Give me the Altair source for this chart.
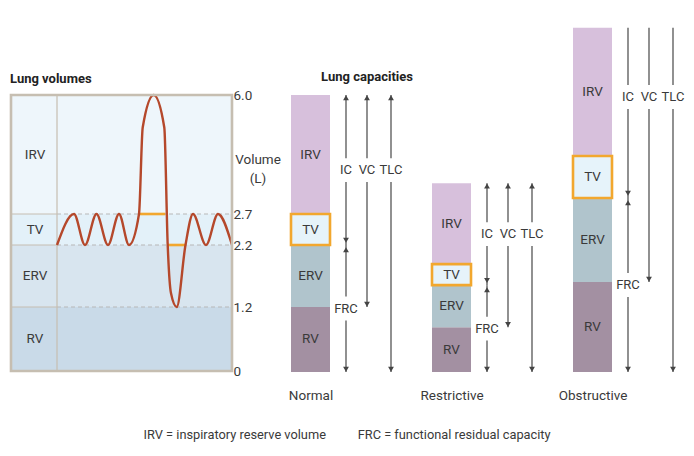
import altair as alt
import pandas as pd

FONT = "Roboto"
FS = 13.5
TEXT_COLOR = "#3a3a3a"

# ---------------- data ----------------
# Lung volumes panel (litres)
volume_levels = [0.0, 1.2, 2.2, 2.7, 6.0]
volume_regions = ["RV", "ERV", "TV", "IRV"]
volume_region_fill = ["#c9dae8", "#d8e5ef", "#e3f1f9", "#eef6fb"]

# spirometer trace: time (arbitrary units) and volume (L), peaks/troughs
trace_t = [46, 63, 74, 85.5, 97, 108, 118, 128, 131.7, 142.7, 153.3, 156.7, 160, 165.7, 174.5, 182, 195, 207, 221]
trace_v = [2.2, 2.7, 2.2, 2.7, 2.2, 2.7, 2.2, 2.7, 5.1, 6.0, 5.1, 2.2, 1.42, 1.2, 2.2, 2.7, 2.2, 2.7, 2.2]

# orange reference segments
reserve_v = [2.7, 2.2]
reserve_t0 = [128.3, 156.7]
reserve_t1 = [154.3, 174.0]

# Lung capacities panels (% of normal TLC, schematic)
conditions = ["Normal", "Restrictive", "Obstructive"]
rv = [23.5, 16.2, 32.5]
erv = [22.4, 15.2, 30.4]
tv = [11.2, 7.6, 15.2]
irv = [43.0, 29.2, 46.3]
ic_label_level = [73.0, 49.8, 99.4]
top_arrowheads = [True, True, False]

segment_names = ["RV", "ERV", "TV", "IRV"]
segment_fill = ["#a390a2", "#b0c4cc", "#e6f3fa", "#d7c0dc"]

legend_items = ["IRV = inspiratory reserve volume", "FRC = functional residual capacity"]

# ---------------- layout constants ----------------
LEFT_W = 221
PANEL_W = 141
PLOT_H = 345
LABEL_COL = 46
BAR_HALF = 19.5
ARROW_X = {"IC": 35.5, "VC": 56.5, "TLC": 80.5, "FRC": 35.5}
CAP_DOMAIN = [0, 124.7]
GAP = 4.3      # half gap around arrow labels (units)
HEAD = 1.0     # arrowhead half height (units)
TAN = "#c6beb1"

# ---------------- left panel ----------------
xs = alt.Scale(domain=[0, LEFT_W], nice=False, zero=False)
ys = alt.Scale(domain=[0, 1.2, 2.2, 2.7, 6.0, 7.886],
               range=[344, 280, 218, 187, 68, 0], nice=False, zero=False)

yaxis = alt.Axis(orient="right", values=volume_levels, title=None, ticks=False, domain=False,
                 grid=False, labelPadding=1, labelFontSize=FS, labelColor=TEXT_COLOR,
                 labelOverlap=False, labelFlush=False,
                 labelExpr="datum.value == 0 ? '0' : format(datum.value, '.1f')")


def LX(f):
    return alt.X(f, scale=xs, axis=None)


def LY(f):
    return alt.Y(f, scale=ys, axis=yaxis)


reg = pd.DataFrame({
    "region": volume_regions,
    "v0": volume_levels[:-1],
    "v1": volume_levels[1:],
    "fill": volume_region_fill,
})
reg["t0"] = 0
reg["t1"] = LEFT_W
reg["vm"] = (reg["v0"] + reg["v1"]) / 2
reg["tl"] = 24

bg = alt.Chart(reg).mark_rect().encode(
    x=LX("t0:Q"), x2="t1:Q", y=LY("v0:Q"), y2="v1:Q",
    fill=alt.Fill("fill:N", scale=None),
)

seps = pd.DataFrame({"v": volume_levels[1:-1]})
seps["t0"] = 0
seps["t1"] = LABEL_COL
seps["t2"] = LEFT_W
solid_sep = alt.Chart(seps).mark_rule(color=TAN, strokeWidth=1.2).encode(
    x=LX("t0:Q"), x2="t1:Q", y=LY("v:Q"))
dashed_sep = alt.Chart(seps).mark_rule(color="#b8b8b8", strokeWidth=1.2, strokeDash=[4, 3]).encode(
    x=LX("t1:Q"), x2="t2:Q", y=LY("v:Q"))

vline_df = pd.DataFrame({"t": [LABEL_COL], "v0": [volume_levels[0]], "v1": [volume_levels[-1]]})
vline = alt.Chart(vline_df).mark_rule(color=TAN, strokeWidth=1.2).encode(
    x=LX("t:Q"), y=LY("v0:Q"), y2="v1:Q")

box_df = pd.DataFrame({"t0": [0], "t1": [LEFT_W], "v0": [volume_levels[0]], "v1": [volume_levels[-1]]})
box = alt.Chart(box_df).mark_rect(fillOpacity=0, stroke=TAN, strokeWidth=2.6).encode(
    x=LX("t0:Q"), x2="t1:Q", y=LY("v0:Q"), y2="v1:Q")

res_df = pd.DataFrame({"v": reserve_v, "t0": reserve_t0, "t1": reserve_t1})
reserve = alt.Chart(res_df).mark_rule(color="#f2a72e", strokeWidth=2.6).encode(
    x=LX("t0:Q"), x2="t1:Q", y=LY("v:Q"))

trace_df = pd.DataFrame({"t": trace_t, "v": trace_v})
trace = alt.Chart(trace_df).mark_line(interpolate="monotone", color="#b5482b", strokeWidth=2.4).encode(
    x=LX("t:Q"), y=LY("v:Q"))

reg_labels = alt.Chart(reg).mark_text(fontSize=FS, color=TEXT_COLOR).encode(
    x=LX("tl:Q"), y=LY("vm:Q"), text="region:N")

ann_left = pd.DataFrame({"t": [-1], "v": [6.44], "txt": ["Lung volumes"]})
title_left = alt.Chart(ann_left).mark_text(fontSize=13, fontWeight="bold", align="left", color="#222").encode(
    x=LX("t:Q"), y=LY("v:Q"), text="txt:N")

ann_vol = pd.DataFrame({"t": [247], "v": [4.2], "txt": ["Volume\n(L)"]})
vol_title = alt.Chart(ann_vol).mark_text(fontSize=FS, align="center", color=TEXT_COLOR,
                                         lineBreak="\n", lineHeight=19).encode(
    x=LX("t:Q"), y=LY("v:Q"), text="txt:N")

left = alt.layer(bg, solid_sep, dashed_sep, vline, reserve, trace, box, reg_labels,
                 title_left, vol_title).properties(width=LEFT_W, height=PLOT_H)


# ---------------- capacity panels ----------------
def cap_panel(i):
    cond = conditions[i]
    segs = [rv[i], erv[i], tv[i], irv[i]]
    y0, acc = [], 0.0
    for s in segs:
        y0.append(acc)
        acc += s
    total = acc
    frc = rv[i] + erv[i]
    lab = ic_label_level[i]
    frc_lab = frc / 2

    xsc = alt.Scale(domain=[-PANEL_W / 2, PANEL_W / 2], nice=False, zero=False)
    ysc = alt.Scale(domain=CAP_DOMAIN, nice=False, zero=False)
    xaxis = alt.Axis(title=cond, domain=False, ticks=False, labels=False, grid=False,
                     titleFontSize=FS, titleFontWeight="normal", titleColor=TEXT_COLOR,
                     titlePadding=16)

    def CX(f):
        return alt.X(f, scale=xsc, axis=xaxis)

    def CY(f):
        return alt.Y(f, scale=ysc, axis=None)

    bars = pd.DataFrame({"seg": segment_names, "y0": y0, "y1": [a + b for a, b in zip(y0, segs)],
                         "fill": segment_fill})
    bars["mid"] = (bars["y0"] + bars["y1"]) / 2
    bars["x0"] = -BAR_HALF
    bars["x1"] = BAR_HALF
    bars["xc"] = 0.0

    bar_layer = alt.Chart(bars).mark_rect().encode(
        x=CX("x0:Q"), x2="x1:Q", y=CY("y0:Q"), y2="y1:Q",
        fill=alt.Fill("fill:N", scale=None))
    tv_box = alt.Chart(bars[bars["seg"] == "TV"]).mark_rect(
        fillOpacity=0, stroke="#f2a72e", strokeWidth=2.6).encode(
        x=CX("x0:Q"), x2="x1:Q", y=CY("y0:Q"), y2="y1:Q")
    seg_text = alt.Chart(bars).mark_text(fontSize=FS, color=TEXT_COLOR).encode(
        x=CX("xc:Q"), y=CY("mid:Q"), text="seg:N")

    ax = ARROW_X
    rules = pd.DataFrame([
        (ax["IC"], total, lab + GAP), (ax["IC"], lab - GAP, frc),
        (ax["VC"], total, lab + GAP), (ax["VC"], lab - GAP, rv[i]),
        (ax["TLC"], total, lab + GAP), (ax["TLC"], lab - GAP, 0.0),
        (ax["FRC"], frc, frc_lab + GAP), (ax["FRC"], frc_lab - GAP, 0.0),
    ], columns=["x", "y", "y2"])
    rule_layer = alt.Chart(rules).mark_rule(color="#555555", strokeWidth=1.3).encode(
        x=CX("x:Q"), y=CY("y:Q"), y2="y2:Q")

    ups = [(ax["FRC"], frc - 1.7 * HEAD)]
    if top_arrowheads[i]:
        ups += [(ax[k], total - HEAD) for k in ["IC", "VC", "TLC"]]
    ups = pd.DataFrame(ups, columns=["x", "y"])
    downs = pd.DataFrame([
        (ax["IC"], frc + 1.7 * HEAD), (ax["VC"], rv[i] + HEAD),
        (ax["TLC"], HEAD), (ax["FRC"], HEAD),
    ], columns=["x", "y"])
    up_layer = alt.Chart(ups).mark_point(shape="triangle-up", filled=True, size=34,
                                         color="#444444", opacity=1).encode(
        x=CX("x:Q"), y=CY("y:Q"))
    down_layer = alt.Chart(downs).mark_point(shape="triangle-down", filled=True, size=34,
                                             color="#444444", opacity=1).encode(
        x=CX("x:Q"), y=CY("y:Q"))

    labels = pd.DataFrame({
        "x": [ax["IC"], ax["VC"], ax["TLC"], ax["FRC"]],
        "y": [lab, lab, lab, frc_lab],
        "txt": ["IC", "VC", "TLC", "FRC"],
    })
    label_layer = alt.Chart(labels).mark_text(fontSize=13, color=TEXT_COLOR).encode(
        x=CX("x:Q"), y=CY("y:Q"), text="txt:N")

    layers = [bar_layer, tv_box, seg_text, rule_layer, up_layer, down_layer, label_layer]
    if i == 0:
        cap_title = pd.DataFrame({"x": [ax["VC"]], "y": [106.5], "txt": ["Lung capacities"]})
        layers.append(alt.Chart(cap_title).mark_text(fontSize=13, fontWeight="bold", color="#222").encode(
            x=CX("x:Q"), y=CY("y:Q"), text="txt:N"))
    return alt.layer(*layers).properties(width=PANEL_W, height=PLOT_H)


caps = alt.hconcat(*[cap_panel(i) for i in range(3)], spacing=0, bounds="flush").resolve_scale(
    x="independent", y="independent")

legend_text = legend_items[0] + "\u00a0" * 10 + legend_items[1]

chart = alt.hconcat(left, caps, spacing=8, bounds="flush").resolve_scale(
    x="independent", y="independent"
).properties(
    title=alt.TitleParams(legend_text, orient="bottom", anchor="middle", fontSize=12.8,
                          fontWeight="normal", color=TEXT_COLOR, offset=27),
    padding={"top": 19, "left": 1, "right": 0, "bottom": 0},
).configure(font=FONT).configure_view(stroke=None)

chart.save("out.html", embed_options={"renderer": "svg", "actions": False})
